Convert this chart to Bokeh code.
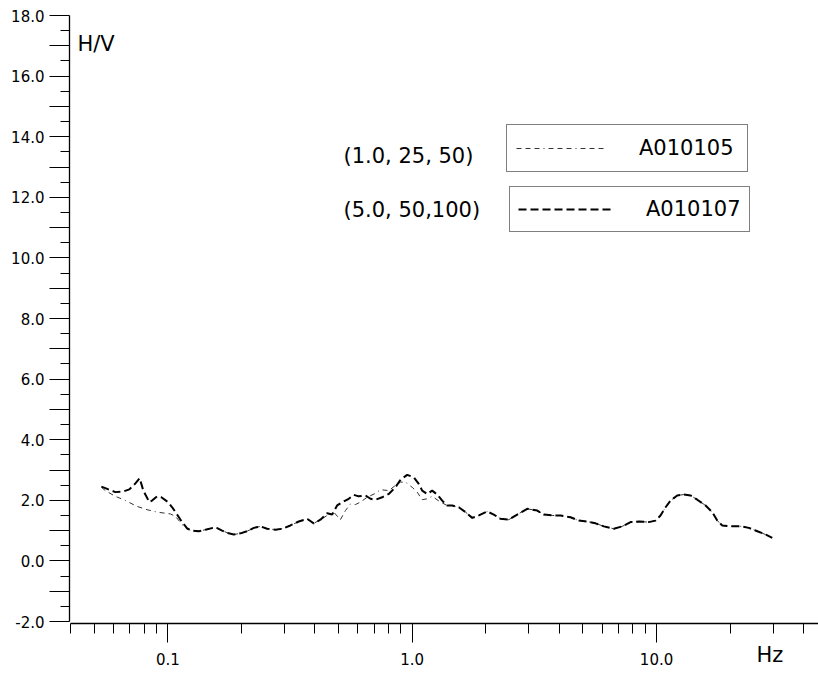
from bokeh.plotting import figure
from bokeh.models import (Range1d, FixedTicker, PrintfTickFormatter, Label,
                          Legend, LegendItem)
from bokeh.embed import file_html
from bokeh.resources import INLINE

# ---------------- data ----------------
freq_a107 = [0.0535, 0.0555, 0.0610, 0.0656, 0.0696, 0.0737, 0.0767, 0.0794,
             0.0840, 0.0862, 0.0904, 0.0941, 0.1002, 0.1042, 0.1098, 0.1144,
             0.120, 0.1257, 0.1338, 0.1426, 0.1566, 0.1668, 0.1775, 0.1862,
             0.1983, 0.2112, 0.2249, 0.2395, 0.2549, 0.2757, 0.2936, 0.3175,
             0.3434, 0.3717, 0.3956, 0.4212, 0.4487, 0.4706, 0.4932, 0.517,
             0.550, 0.5767, 0.6043, 0.644, 0.675, 0.708, 0.754, 0.802, 0.854,
             0.896, 0.954, 1.015, 1.064, 1.099, 1.152, 1.207, 1.266, 1.327,
             1.391, 1.458, 1.551, 1.653, 1.761, 1.874, 2.028, 2.158, 2.298,
             2.485, 2.690, 2.957, 3.249, 3.457, 3.741, 4.046, 4.446, 4.808,
             5.20, 5.626, 6.085, 6.687, 7.237, 7.828, 8.466, 9.300, 9.906,
             10.38, 10.89, 11.41, 12.15, 12.93, 13.77, 14.68, 15.87, 16.90,
             17.72, 18.58, 20.09, 22.08, 23.88, 25.84, 27.93, 29.76]
hv_a107 = [2.45, 2.40, 2.27, 2.29, 2.36, 2.56, 2.73, 2.32,
           1.94, 1.99, 2.13, 2.10, 1.94, 1.77, 1.50, 1.28,
           1.07, 1.00, 0.98, 1.03, 1.11, 1.00, 0.91, 0.87,
           0.91, 0.98, 1.09, 1.14, 1.06, 1.03, 1.06, 1.17,
           1.30, 1.39, 1.24, 1.36, 1.57, 1.53, 1.83, 1.94,
           2.05, 2.18, 2.13, 2.16, 2.05, 2.02, 2.10, 2.21, 2.43,
           2.68, 2.84, 2.76, 2.54, 2.32, 2.21, 2.32, 2.19, 1.99,
           1.83, 1.83, 1.77, 1.61, 1.42, 1.50, 1.63, 1.53, 1.39,
           1.36, 1.53, 1.72, 1.66, 1.53, 1.50, 1.50, 1.44, 1.33,
           1.30, 1.24, 1.14, 1.06, 1.14, 1.28, 1.30, 1.28, 1.33,
           1.50, 1.77, 1.99, 2.16, 2.19, 2.16, 2.02, 1.83, 1.61,
           1.33, 1.17, 1.14, 1.14, 1.09, 0.98, 0.87, 0.76]

freq_a105 = [0.0535, 0.0555, 0.0610, 0.0660, 0.0748, 0.0823, 0.0904, 0.1025,
             0.1075, 0.1144, 0.120, 0.1257, 0.1338, 0.1426, 0.1566, 0.1668,
             0.1775, 0.1862, 0.1983, 0.2112, 0.2249, 0.2395, 0.2549, 0.2757,
             0.2936, 0.3175, 0.3434, 0.3717, 0.3956, 0.4212, 0.4487, 0.4775,
             0.5085, 0.533, 0.559, 0.586, 0.614, 0.654, 0.708, 0.742, 0.802,
             0.854, 0.896, 0.939, 1.000, 1.048, 1.099, 1.152, 1.207, 1.306,
             1.391, 1.458, 1.551, 1.653, 1.761, 1.874, 2.028, 2.158, 2.298,
             2.485, 2.690, 2.957, 3.249, 3.457, 3.741, 4.046, 4.446, 4.808,
             5.20, 5.626, 6.085, 6.687, 7.237, 7.828, 8.466, 9.300, 9.906,
             10.38, 10.89, 11.41, 12.15, 12.93, 13.77, 14.68, 15.87, 16.90,
             17.72, 18.58, 20.09, 22.08, 23.88, 25.84, 27.93, 29.76]
hv_a105 = [2.43, 2.32, 2.13, 2.02, 1.80, 1.69, 1.61, 1.55,
           1.47, 1.20, 1.05, 1.00, 0.98, 1.03, 1.11, 1.00,
           0.91, 0.87, 0.91, 0.98, 1.09, 1.14, 1.06, 1.03,
           1.06, 1.17, 1.30, 1.39, 1.24, 1.36, 1.50, 1.61,
           1.36, 1.66, 1.88, 1.86, 1.94, 2.10, 2.23, 2.35, 2.32,
           2.49, 2.60, 2.60, 2.43, 2.27, 2.02, 2.05, 2.13, 1.94,
           1.83, 1.83, 1.77, 1.61, 1.42, 1.50, 1.63, 1.53, 1.39,
           1.36, 1.53, 1.72, 1.66, 1.53, 1.50, 1.50, 1.44, 1.33,
           1.30, 1.24, 1.14, 1.06, 1.14, 1.28, 1.30, 1.28, 1.33,
           1.50, 1.77, 1.99, 2.16, 2.19, 2.16, 2.02, 1.83, 1.61,
           1.33, 1.17, 1.14, 1.14, 1.09, 0.98, 0.87, 0.76]

series_names = ["A010105", "A010107"]
series_params = ["(1.0, 25, 50)", "(5.0, 50,100)"]

x_major = [0.1, 1.0, 10.0]
x_minor = [0.04, 0.05, 0.06, 0.07, 0.08, 0.09,
           0.2, 0.3, 0.4, 0.5, 0.6, 0.7, 0.8, 0.9,
           2, 3, 4, 5, 6, 7, 8, 9, 20, 30, 40]
y_major = list(range(-2, 19))
y_minor = [v + 0.5 for v in range(-2, 18)]
y_blank = {v: "" for v in y_major if v % 2 != 0}

FONT = "DejaVu Sans"
Y_LOW = -2.066  # where the frequency axis sits

# frame covers the full lower area so that the frequency axis, its labels
# and the "Hz" title are drawn inside it
p = figure(width=818, height=673, x_axis_type="log",
           x_range=Range1d(0.0396, 46.0), y_range=Range1d(-3.716, 18.0),
           output_backend="svg", toolbar_location=None, title=None,
           min_border_left=69, min_border_right=0, min_border_top=15,
           min_border_bottom=0)
p.outline_line_color = None
p.grid.visible = False

r105 = p.line(freq_a105, hv_a105, line_color="#333333", line_width=1,
              line_dash="5 4 5 4 5 4 1 4")
r107 = p.line(freq_a107, hv_a107, line_color="black", line_width=2,
              line_dash="8 4")

xa = p.xaxis[0]
xa.fixed_location = Y_LOW
xa.ticker = FixedTicker(ticks=x_major, minor_ticks=x_minor)
xa.formatter = PrintfTickFormatter(format="%.1f")
xa.bounds = (0.04, 46.0)
xa.major_tick_out = 19
xa.major_tick_in = 0
xa.minor_tick_out = 10
xa.minor_tick_in = 0
xa.major_label_standoff = 10
xa.axis_line_width = 1.3
xa.major_label_text_font = FONT
xa.major_label_text_font_size = "15px"
xa.major_label_text_color = "black"

ya = p.yaxis[0]
ya.ticker = FixedTicker(ticks=y_major, minor_ticks=y_minor)
ya.formatter = PrintfTickFormatter(format="%.1f")
ya.major_label_overrides = y_blank
ya.bounds = (-2, 18)
ya.major_tick_out = 20
ya.major_tick_in = 0
ya.minor_tick_out = 9
ya.minor_tick_in = 0
ya.major_label_standoff = 5
ya.axis_line_width = 1.3
ya.major_label_text_font = FONT
ya.major_label_text_font_size = "15px"
ya.major_label_text_color = "black"

p.add_layout(Label(x=8, y=630, x_units="screen", y_units="screen",
                   text="H/V", text_font=FONT, text_font_size="21px",
                   text_baseline="middle", text_color="black"))
p.add_layout(Label(x=687, y=19, x_units="screen", y_units="screen",
                   text="Hz", text_font=FONT, text_font_size="21px",
                   text_baseline="middle", text_color="black"))

leg_specs = [
    (r105, series_names[0], series_params[0], (437, 501), 90, 33, 99, 9, 518),
    (r107, series_names[1], series_params[1], (440, 441), 96, 32, 95, 8, 464),
]
for rend, name, param, loc, gw, so, lw, pad, ly in leg_specs:
    leg = Legend(items=[LegendItem(label=name, renderers=[rend])],
                 location=loc, margin=0, padding=pad, spacing=0,
                 glyph_width=gw, glyph_height=28, label_height=28,
                 label_width=lw, label_standoff=so,
                 label_text_font=FONT, label_text_font_size="21px",
                 label_text_color="black",
                 border_line_color="black", border_line_width=1,
                 background_fill_color="white", background_fill_alpha=1.0)
    p.add_layout(leg)
    p.add_layout(Label(x=274, y=ly, x_units="screen", y_units="screen",
                       text=param, text_font=FONT, text_font_size="21px",
                       text_baseline="middle", text_color="black"))

open("out.html", "w").write(file_html(p, INLINE))
